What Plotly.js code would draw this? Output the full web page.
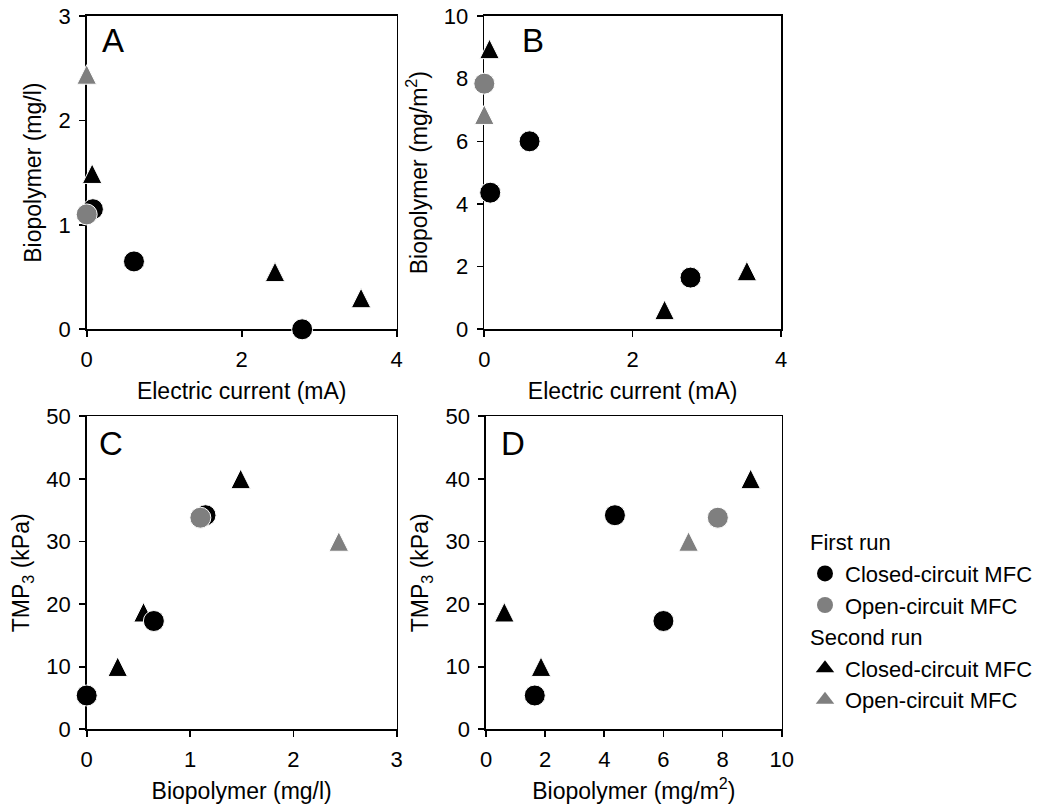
<!DOCTYPE html>
<html>
<head>
<meta charset="utf-8">
<script src="https://cdn.plot.ly/plotly-3.0.1.min.js"></script>
<style>
  html, body { margin: 0; padding: 0; background: #fff; }
  #chart { width: 1062px; height: 807px; }
</style>
</head>
<body>
<div id="chart"></div>
<script>
// First run – closed-circuit MFC
const current_closed1   = [0.08, 0.61, 2.78];
const bio_mgL_closed1   = [1.15, 0.65, 0.00];
const bio_mgm2_closed1  = [4.36, 6.00, 1.65];
const tmp3_closed1      = [34.2, 17.3, 5.4];

// First run – open-circuit MFC
const current_open1     = [0.00];
const bio_mgL_open1     = [1.10];
const bio_mgm2_open1    = [7.84];
const tmp3_open1        = [33.8];

// Second run – closed-circuit MFC
const current_closed2   = [0.07, 2.43, 3.54];
const bio_mgL_closed2   = [1.49, 0.55, 0.30];
const bio_mgm2_closed2  = [8.95, 0.62, 1.86];
const tmp3_closed2      = [40.0, 18.7, 10.0];

// Second run – open-circuit MFC
const current_open2     = [0.00];
const bio_mgL_open2     = [2.44];
const bio_mgm2_open2    = [6.85];
const tmp3_open2        = [30.0];

// Tick values
const ticks_current = [0, 2, 4];
const ticks_mgL_y   = [0, 1, 2, 3];
const ticks_mgm2_y  = [0, 2, 4, 6, 8, 10];
const ticks_mgL_x   = [0, 1, 2, 3];
const ticks_mgm2_x  = [0, 2, 4, 6, 8, 10];
const ticks_tmp     = [0, 10, 20, 30, 40, 50];

// Legend text
const groupTitles = ['First run', 'Second run'];
const seriesNames = ['Closed-circuit MFC', 'Open-circuit MFC'];

const FONT = 'Liberation Sans, Arial, sans-serif';
const BLACK = '#000000';
const GREY = '#7f7f7f';
const CIRCLE_SIZE = 21;
const TRI_SIZE = 19.5;

const W = 1062, H = 807;

// marker styles: an upward triangle with equal width and height, centred on the point
function triMarker(color) {
  return { symbol: 'arrow-down', angle: 180, standoff: TRI_SIZE / 2, size: TRI_SIZE,
           color: color, line: { color: '#ffffff', width: 1 } };
}
function circMarker(color) {
  return { symbol: 'circle', size: CIRCLE_SIZE, color: color,
           line: { color: '#ffffff', width: 1 } };
}

const panels = [
  { xa: 'x',  ya: 'y',  xKey: 'current', yKey: 'mgL' },
  { xa: 'x2', ya: 'y2', xKey: 'current', yKey: 'mgm2' },
  { xa: 'x3', ya: 'y3', xKey: 'mgL',     yKey: 'tmp' },
  { xa: 'x4', ya: 'y4', xKey: 'mgm2',    yKey: 'tmp' }
];

const series = [
  { data: { current: current_closed2, mgL: bio_mgL_closed2, mgm2: bio_mgm2_closed2, tmp: tmp3_closed2 },
    marker: triMarker(BLACK) },
  { data: { current: current_open2, mgL: bio_mgL_open2, mgm2: bio_mgm2_open2, tmp: tmp3_open2 },
    marker: triMarker(GREY) },
  { data: { current: current_closed1, mgL: bio_mgL_closed1, mgm2: bio_mgm2_closed1, tmp: tmp3_closed1 },
    marker: circMarker(BLACK) },
  { data: { current: current_open1, mgL: bio_mgL_open1, mgm2: bio_mgm2_open1, tmp: tmp3_open1 },
    marker: circMarker(GREY) }
];

const traces = [];
series.forEach(s => {
  panels.forEach(p => {
    traces.push({
      type: 'scatter', mode: 'markers',
      x: s.data[p.xKey], y: s.data[p.yKey],
      xaxis: p.xa, yaxis: p.ya,
      marker: s.marker, cliponaxis: false,
      showlegend: false, hoverinfo: 'x+y'
    });
  });
});

// legend entries
const legendDefs = [
  { group: 0, name: 0, symbol: 'circle', color: BLACK },
  { group: 0, name: 1, symbol: 'circle', color: GREY },
  { group: 1, name: 0, symbol: 'triangle-up', color: BLACK },
  { group: 1, name: 1, symbol: 'triangle-up', color: GREY }
];
legendDefs.forEach(d => {
  traces.push({
    type: 'scatter', mode: 'markers', x: [null], y: [null],
    xaxis: 'x4', yaxis: 'y4',
    name: seriesNames[d.name],
    legendgroup: 'g' + d.group,
    legendgrouptitle: { text: groupTitles[d.group], font: { family: FONT, size: 22, color: BLACK } },
    marker: { symbol: d.symbol, color: d.color, size: 16 },
    showlegend: true
  });
});

function xdom(a, b) { return [a / W, b / W]; }
function ydom(top, bottom) { return [1 - bottom / H, 1 - top / H]; }

function axis(domain, range, tickvals, title, standoff, anchor) {
  return {
    domain: domain, range: range, anchor: anchor,
    tickvals: tickvals, ticktext: tickvals.map(String),
    showline: true, mirror: true, linecolor: BLACK, linewidth: 1.6,
    ticks: 'outside', ticklen: 6, tickwidth: 1.6, tickcolor: BLACK,
    ticklabelstandoff: 4,
    showgrid: false, zeroline: false, layer: 'below traces',
    tickfont: { family: FONT, size: 22, color: BLACK },
    title: { text: title, standoff: standoff, font: { family: FONT, size: 23, color: BLACK } },
    fixedrange: true
  };
}

const topRow = ydom(16, 329.3);
const botRow = ydom(416.3, 729.3);

const layout = {
  width: W, height: H,
  margin: { l: 0, r: 0, t: 0, b: 0 },
  paper_bgcolor: '#ffffff', plot_bgcolor: '#ffffff',
  font: { family: FONT, color: BLACK },
  showlegend: true,
  legend: {
    x: 805 / W, xanchor: 'left', y: 1 - 521 / H, yanchor: 'top',
    font: { family: FONT, size: 22, color: BLACK },
    tracegroupgap: 0, traceorder: 'grouped',
    bgcolor: 'rgba(0,0,0,0)', borderwidth: 0,
    itemclick: false, itemdoubleclick: false
  },
  xaxis:  axis(xdom(86.7, 396.7), [0, 4],  ticks_current, 'Electric current (mA)', 11, 'y'),
  yaxis:  axis(topRow,            [0, 3],  ticks_mgL_y,   'Biopolymer (mg/l)', 10, 'x'),
  xaxis2: axis(xdom(484.3, 781),  [0, 4],  ticks_current, 'Electric current (mA)', 11, 'y2'),
  yaxis2: axis(topRow,            [0, 10], ticks_mgm2_y,  'Biopolymer (mg/m<sup>2</sup>)', 10, 'x2'),
  xaxis3: axis(xdom(86.7, 396.7), [0, 3],  ticks_mgL_x,   'Biopolymer (mg/l)', 11, 'y3'),
  yaxis3: axis(botRow,            [0, 50], ticks_tmp,     'TMP<sub>3</sub> (kPa)', 10, 'x3'),
  xaxis4: axis(xdom(486, 781.7),  [0, 10], ticks_mgm2_x,  'Biopolymer (mg/m<sup>2</sup>)', 11, 'y4'),
  yaxis4: axis(botRow,            [0, 50], ticks_tmp,     'TMP<sub>3</sub> (kPa)', 10, 'x4'),
  annotations: [
    { text: 'A', xref: 'x domain',  yref: 'y domain',  x: 0.043, y: 0.923, xanchor: 'left', yanchor: 'middle', showarrow: false, font: { family: FONT, size: 33, color: BLACK } },
    { text: 'B', xref: 'x2 domain', yref: 'y2 domain', x: 0.12,  y: 0.923, xanchor: 'left', yanchor: 'middle', showarrow: false, font: { family: FONT, size: 33, color: BLACK } },
    { text: 'C', xref: 'x3 domain', yref: 'y3 domain', x: 0.032, y: 0.912, xanchor: 'left', yanchor: 'middle', showarrow: false, font: { family: FONT, size: 33, color: BLACK } },
    { text: 'D', xref: 'x4 domain', yref: 'y4 domain', x: 0.043, y: 0.912, xanchor: 'left', yanchor: 'middle', showarrow: false, font: { family: FONT, size: 33, color: BLACK } }
  ]
};

Plotly.newPlot('chart', traces, layout, { displayModeBar: false, staticPlot: true });
</script>
</body>
</html>
